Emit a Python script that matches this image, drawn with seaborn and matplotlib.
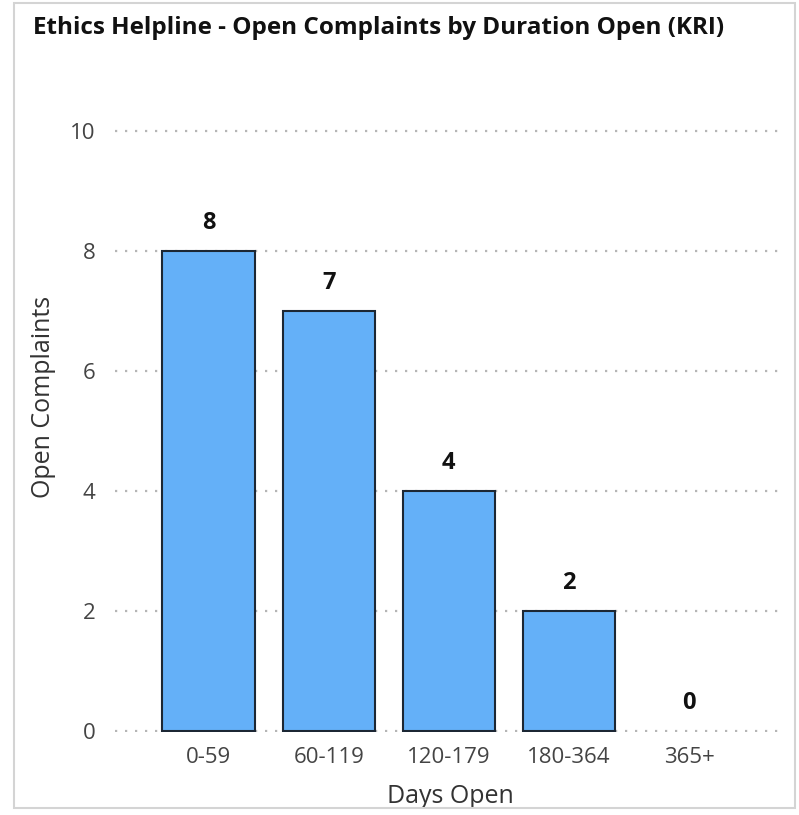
import matplotlib
matplotlib.use('Agg')
import matplotlib.pyplot as plt
import seaborn as sns
import pandas as pd
from matplotlib.patches import Rectangle

# Chart data
categories = ['0-59', '60-119', '120-179', '180-364', '365+']
complaints = [8, 7, 4, 2, 0]
y_ticks = [0, 2, 4, 6, 8, 10]

df = pd.DataFrame({'Days Open': categories, 'Open Complaints': complaints})

sns.set_style('white')
plt.rcParams['font.family'] = ['Open Sans', 'DejaVu Sans']

W, H = 799, 815
fig = plt.figure(figsize=(W / 100, H / 100), dpi=100)

# axes placed in pixel terms
ax_left, ax_right = 115, 785
ax_top, ax_bottom = 128, 732.2
ax = fig.add_axes([ax_left / W, 1 - ax_bottom / H,
                   (ax_right - ax_left) / W, (ax_bottom - ax_top) / H])

sns.barplot(data=df, x='Days Open', y='Open Complaints', color='#64B0F8',
            saturation=1, width=0.77, edgecolor='#1c2734', linewidth=1.5, ax=ax)

# hide outline of empty bars
for p in ax.patches:
    if p.get_height() == 0:
        p.set_visible(False)

for i, v in enumerate(complaints):
    ax.text(i, v + 0.47, str(v), ha='center', va='center',
            fontsize=17, fontweight='bold', color='#111111')

ax.set_ylim(-0.02, 10.05)
ax.set_xlim(-0.78, 4.8)
ax.set_yticks(y_ticks)
for y in y_ticks:
    ax.axhline(y, color='#b5b5b5', linestyle=(0, (1, 3.5)), linewidth=1.6, zorder=0)

sns.despine(ax=ax, left=True, bottom=True)
ax.tick_params(axis='both', length=0, labelsize=16, labelcolor='#444444')
ax.tick_params(axis='y', pad=14)
ax.tick_params(axis='x', pad=11)
ax.set_xlabel('Days Open', fontsize=18, color='#333333', labelpad=11)
ax.set_ylabel('Open Complaints', fontsize=18, color='#333333')
ax.yaxis.set_label_coords(-0.088, 0.555)

fig.text(33 / W, 1 - 28 / H, 'Ethics Helpline - Open Complaints by Duration Open (KRI)',
         ha='left', va='center', fontsize=17.5, fontweight='bold', color='#111111')

# light frame around the visual
fig.patches.append(Rectangle((14 / W, 1 - 808 / H), (795 - 14) / W, (808 - 3) / H,
                             transform=fig.transFigure, fill=False,
                             edgecolor='#d4d4d4', linewidth=1.5))

fig.savefig('out.png', dpi=100)
